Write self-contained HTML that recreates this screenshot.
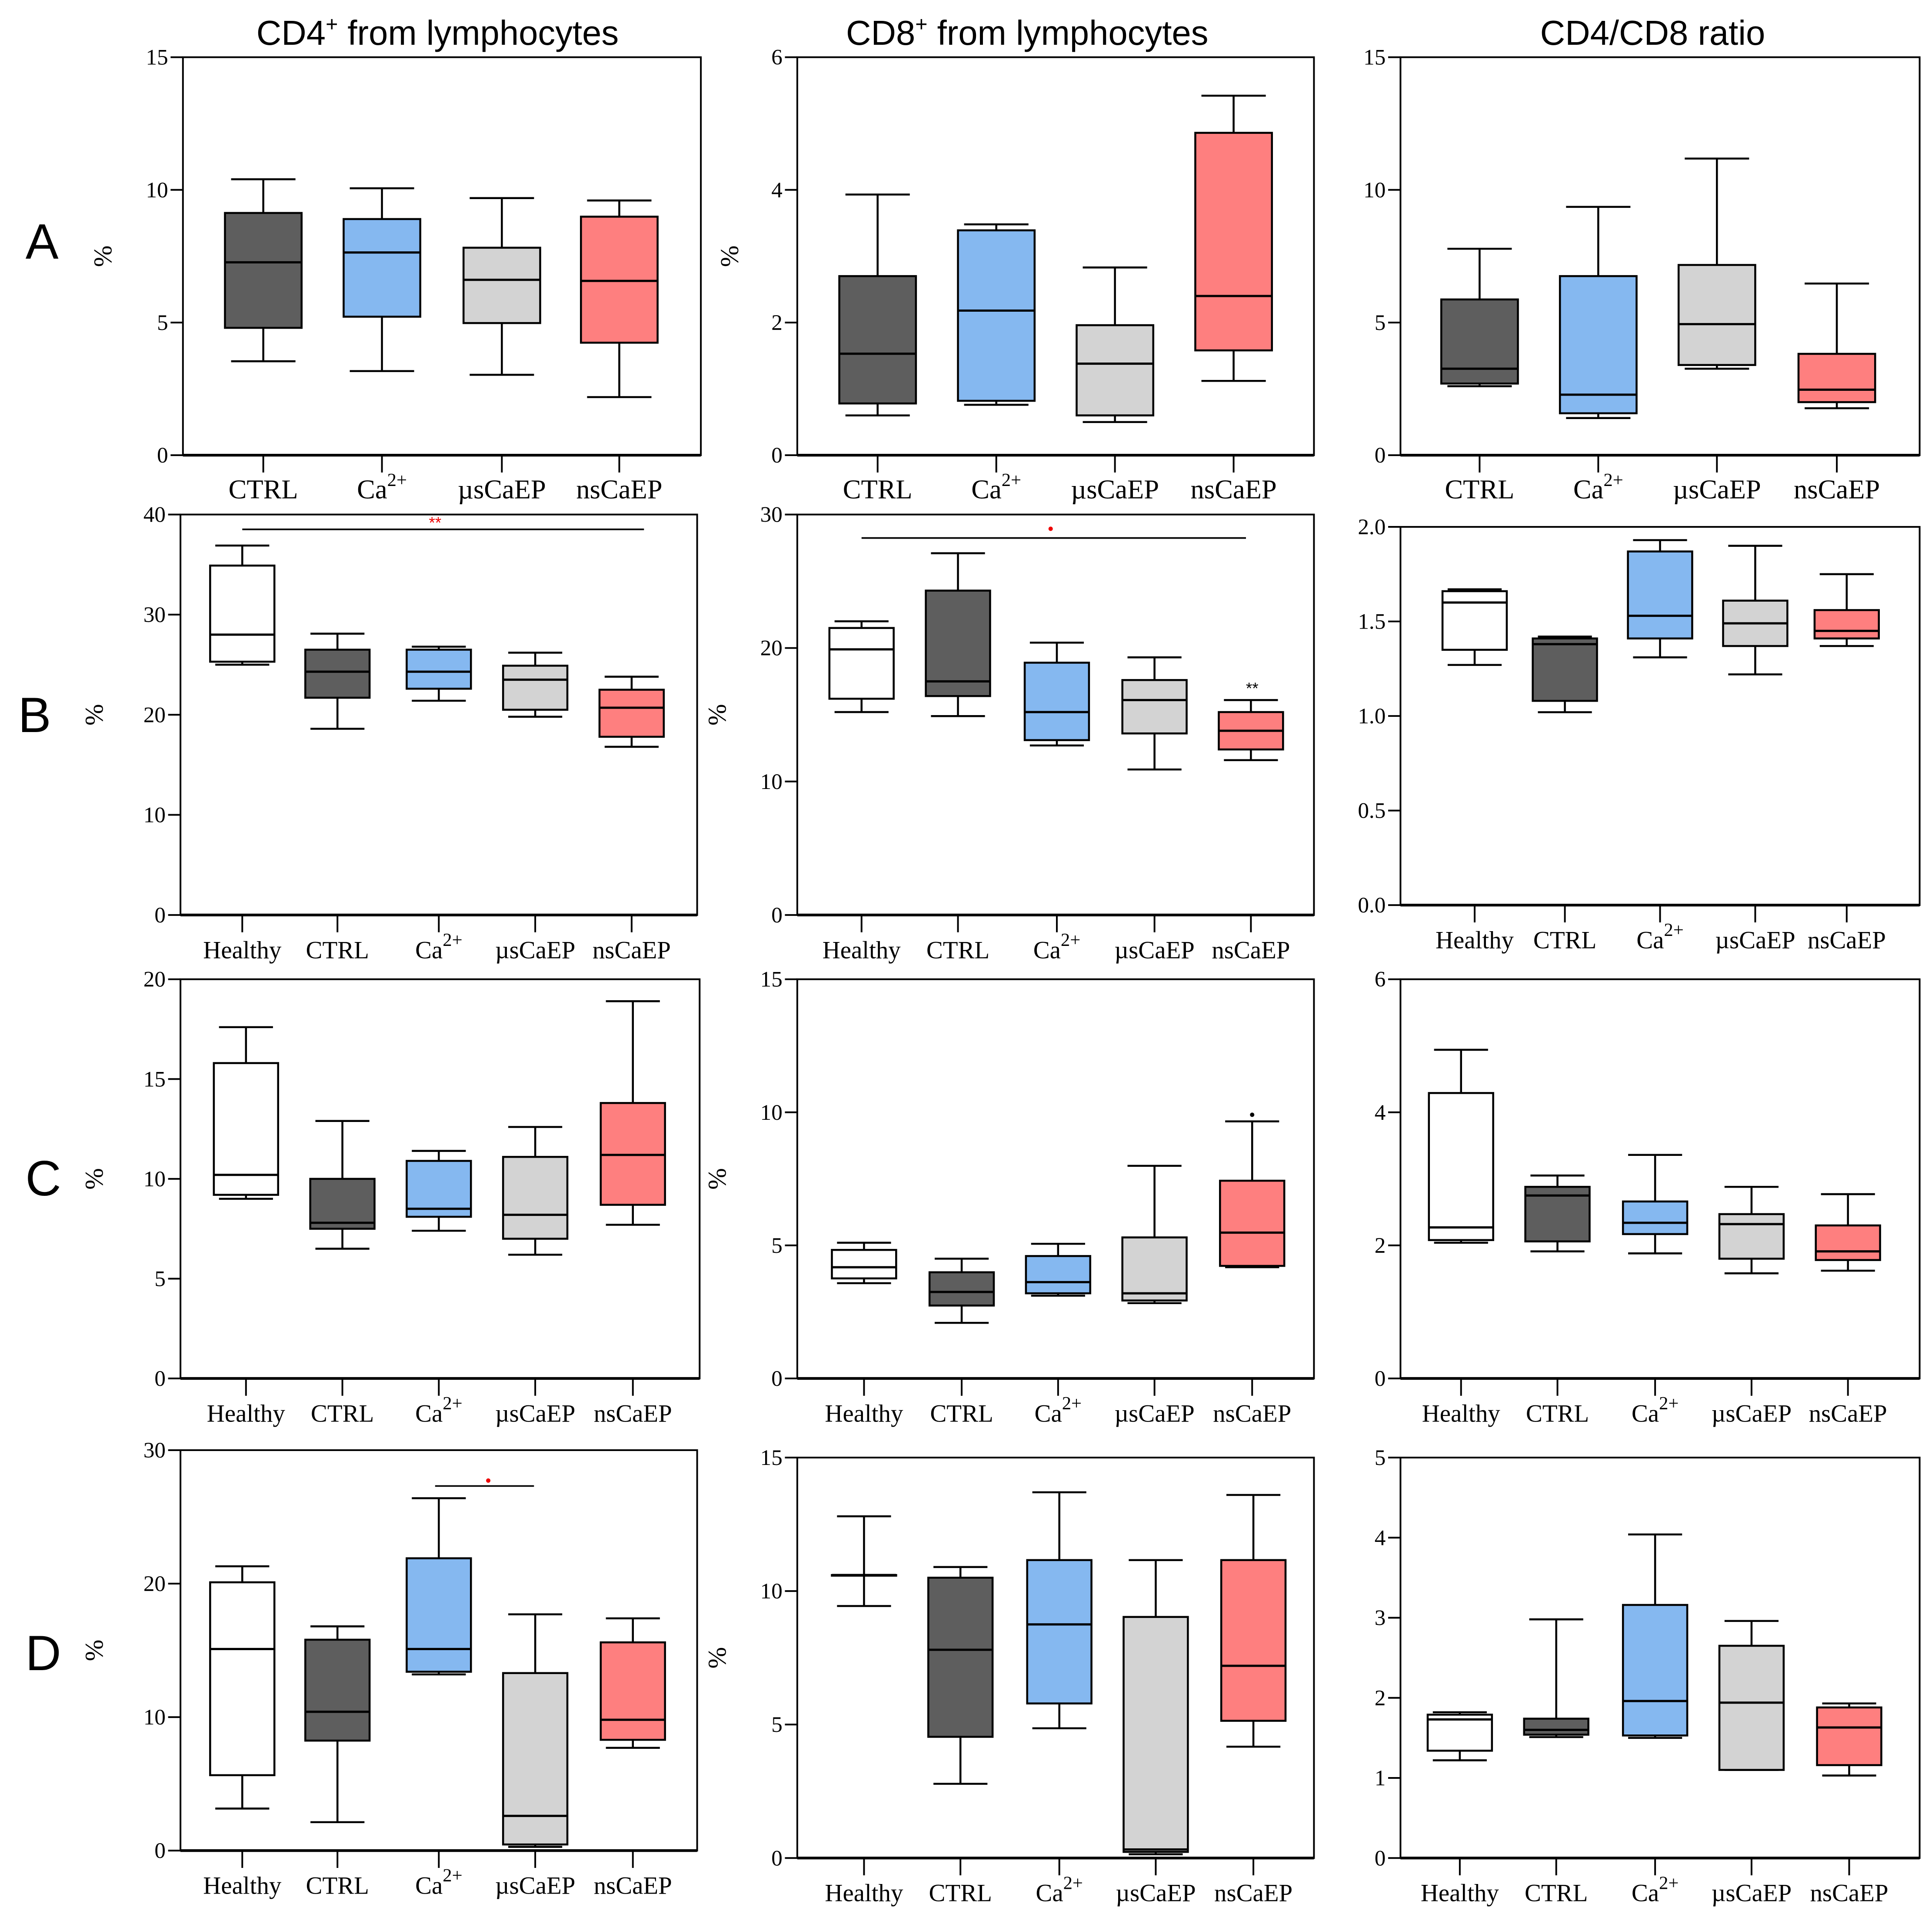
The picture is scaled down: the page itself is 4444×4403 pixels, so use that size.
<!DOCTYPE html>
<html><head><meta charset="utf-8"><style>
html,body{margin:0;padding:0;background:#fff;}
svg{display:block;}
</style></head><body>
<svg id="fig" width="4444" height="4403" viewBox="0 0 1563 1548" xmlns="http://www.w3.org/2000/svg">
<rect width="1563" height="1548" fill="#fff"/>
<g font-family="Liberation Sans, Arial, sans-serif" font-size="28" text-anchor="middle" fill="#000">
<text x="354" y="36">CD4<tspan font-size="17" dy="-11">+</tspan><tspan dy="11"> from lymphocytes</tspan></text>
<text x="831" y="36">CD8<tspan font-size="17" dy="-11">+</tspan><tspan dy="11"> from lymphocytes</tspan></text>
<text x="1337" y="36">CD4/CD8 ratio</text>
</g>
<g font-family="Liberation Sans, Arial, sans-serif" font-size="40" text-anchor="middle">
<text x="34" y="209">A</text>
<text x="28" y="592">B</text>
<text x="35" y="967">C</text>
<text x="35" y="1351">D</text>
</g>
<g id="panels"></g>
</svg>
<script>
const catsA = ["CTRL","Ca","µsCaEP","nsCaEP"];
const catsB = ["Healthy","CTRL","Ca","µsCaEP","nsCaEP"];
// each box: [min, q1, median, q3, max]
const A1 = [[3.54,4.8,7.27,9.13,10.4],[3.17,5.22,7.64,8.9,10.06],[3.03,4.98,6.61,7.82,9.69],[2.19,4.24,6.57,8.99,9.6]];
const A2 = [[0.6,0.78,1.53,2.7,3.93],[0.76,0.82,2.18,3.39,3.48],[0.5,0.6,1.38,1.96,2.83],[1.12,1.58,2.4,4.86,5.42]];
const A3 = [[2.6,2.7,3.26,5.87,7.78],[1.4,1.58,2.28,6.75,9.36],[3.26,3.4,4.94,7.17,11.18],[1.77,2.0,2.47,3.82,6.47]];
const B1 = [[25,25.3,28,34.9,36.9],[18.6,21.7,24.3,26.5,28.1],[21.4,22.6,24.3,26.5,26.8],[19.8,20.5,23.5,24.9,26.2],[16.8,17.8,20.7,22.5,23.8]];
const B2 = [[15.2,16.2,19.9,21.5,22],[14.9,16.4,17.5,24.3,27.1],[12.7,13.1,15.2,18.9,20.4],[10.9,13.6,16.1,17.6,19.3],[11.6,12.4,13.8,15.2,16.1]];
const B3 = [[1.27,1.35,1.6,1.66,1.67],[1.02,1.08,1.38,1.41,1.42],[1.31,1.41,1.53,1.87,1.93],[1.22,1.37,1.49,1.61,1.9],[1.37,1.41,1.45,1.56,1.75]];
const C1 = [[9.0,9.2,10.2,15.8,17.6],[6.5,7.5,7.8,10.0,12.9],[7.4,8.1,8.5,10.9,11.4],[6.2,7.0,8.2,11.1,12.6],[7.7,8.7,11.2,13.8,18.9]];
const C2 = [[3.58,3.76,4.18,4.83,5.1],[2.09,2.74,3.25,3.99,4.5],[3.11,3.2,3.62,4.6,5.06],[2.83,2.93,3.2,5.3,7.99],[4.18,4.23,5.48,7.43,9.66]];
const C3 = [[2.04,2.08,2.27,4.29,4.94],[1.91,2.06,2.75,2.88,3.05],[1.88,2.17,2.34,2.66,3.36],[1.58,1.8,2.32,2.47,2.88],[1.62,1.78,1.91,2.3,2.77]];
const D1 = [[3.15,5.65,15.1,20.1,21.3],[2.13,8.24,10.4,15.8,16.8],[13.2,13.4,15.1,21.9,26.4],[0.28,0.46,2.6,13.3,17.7],[7.7,8.3,9.8,15.6,17.4]];
const D2 = [[9.44,10.6,10.6,10.6,12.8],[2.78,4.54,7.8,10.5,10.9],[4.86,5.79,8.75,11.16,13.7],[0.14,0.23,0.32,9.03,11.16],[4.17,5.14,7.2,11.16,13.6]];
const D3 = [[1.22,1.34,1.73,1.79,1.82],[1.51,1.54,1.6,1.74,2.98],[1.5,1.53,1.96,3.16,4.04],[1.1,1.1,1.94,2.65,2.96],[1.03,1.16,1.63,1.88,1.93]];
const ticksA1=[0,5,10,15], ticksA2=[0,2,4,6], ticksB1=[0,10,20,30,40], ticksB2=[0,10,20,30], ticksB3=[0,0.5,1,1.5,2];
const ticksC1=[0,5,10,15,20], ticksC2=[0,5,10,15], ticksC3=[0,2,4,6], ticksD1=[0,10,20,30], ticksD3=[0,1,2,3,4,5];

const colorsA=["#5e5e5e","#85b8f0","#d3d3d3","#fe7f7f"];
const colorsB=["#ffffff","#5e5e5e","#85b8f0","#d3d3d3","#fe7f7f"];
const NS="http://www.w3.org/2000/svg";
const root=document.getElementById('panels');
function mk(tag,attrs,parent){const e=document.createElementNS(NS,tag);for(const k in attrs)e.setAttribute(k,attrs[k]);(parent||root).appendChild(e);return e;}

const panels=[
 {id:"a1",L:148,R:567,T:46,B:368,max:15,ticks:ticksA1,dec:0,cats:catsA,cx:[213,309,406,501],bw:62,data:A1,ylx:90},
 {id:"a2",L:645,R:1063,T:46,B:368,max:6,ticks:ticksA2,dec:0,cats:catsA,cx:[710,806,902,998],bw:62,data:A2,ylx:597},
 {id:"a3",L:1133,R:1553,T:46,B:368,max:15,ticks:ticksA1,dec:0,cats:catsA,cx:[1197,1293,1389,1486],bw:62,data:A3,ylx:null},
 {id:"b1",L:146,R:564,T:416,B:740,max:40,ticks:ticksB1,dec:0,cats:catsB,cx:[196,273,355,433,511],bw:52,data:B1,ylx:83},
 {id:"b2",L:645,R:1063,T:416,B:740,max:30,ticks:ticksB2,dec:0,cats:catsB,cx:[697,775,855,934,1012],bw:52,data:B2,ylx:587},
 {id:"b3",L:1133,R:1553,T:426,B:732,max:2,ticks:ticksB3,dec:1,cats:catsB,cx:[1193,1266,1343,1420,1494],bw:52,data:B3,ylx:null},
 {id:"c1",L:146,R:566,T:792,B:1115,max:20,ticks:ticksC1,dec:0,cats:catsB,cx:[199,277,355,433,512],bw:52,data:C1,ylx:83},
 {id:"c2",L:645,R:1063,T:792,B:1115,max:15,ticks:ticksC2,dec:0,cats:catsB,cx:[699,778,856,934,1013],bw:52,data:C2,ylx:587},
 {id:"c3",L:1133,R:1553,T:792,B:1115,max:6,ticks:ticksC3,dec:0,cats:catsB,cx:[1182,1260,1339,1417,1495],bw:52,data:C3,ylx:null},
 {id:"d1",L:146,R:564,T:1173,B:1497,max:30,ticks:ticksD1,dec:0,cats:catsB,cx:[196,273,355,433,512],bw:52,data:D1,ylx:83},
 {id:"d2",L:645,R:1063,T:1179,B:1503,max:15,ticks:ticksC2,dec:0,cats:catsB,cx:[699,777,857,935,1014],bw:52,data:D2,ylx:587},
 {id:"d3",L:1133,R:1553,T:1179,B:1503,max:5,ticks:ticksD3,dec:0,cats:catsB,cx:[1181,1259,1339,1417,1496],bw:52,data:D3,ylx:null}
];

panels.forEach(p=>{
 const g=mk('g',{});
 
 
 const y=v=>p.B-(v/p.max)*(p.B-p.T);
 const frame=mk('rect',{x:p.L,y:p.T,width:p.R-p.L,height:p.B-p.T,fill:"none",stroke:"#000","stroke-width":1.4},g);
 
 
 mk('line',{x1:p.L,x2:p.R,y1:p.B,y2:p.B,stroke:"#000","stroke-width":2.2},g);
 p.ticks.forEach(t=>{
  mk('line',{x1:p.L-10,x2:p.L,y1:y(t),y2:y(t),stroke:"#000","stroke-width":1.4},g);
  const tx=mk('text',{x:p.L-12,y:y(t)+6,"font-family":"Liberation Serif, serif","font-size":18,"text-anchor":"end"},g);
  tx.textContent=t.toFixed(p.dec);
  
  
 });
 if(p.ylx!==null){
  const yl=mk('text',{x:0,y:0,transform:`translate(${p.ylx},${(p.T+p.B)/2}) rotate(-90)`,"font-family":"Liberation Serif, serif","font-size":21,"text-anchor":"middle"},g);
  yl.textContent="%";
  
  
 }
 p.cats.forEach((c,i)=>{
  const x=p.cx[i];
  mk('line',{x1:x,x2:x,y1:p.B,y2:p.B+14,stroke:"#000","stroke-width":1.4},g);
  const fs=p.cats.length===4?22:20;
  const tx=mk('text',{x:x,y:p.B+35,"font-family":"Liberation Serif, serif","font-size":fs,"text-anchor":"middle"},g);
  if(c==="Ca"){tx.innerHTML='Ca<tspan font-size="15" dy="-10">2+</tspan>';}
  else tx.textContent=c;
  
  
  const d=p.data[i];
  const col=(p.cats.length===4?colorsA:colorsB)[i];
  const bg=mk('g',{},g);
  
  
  const cw=p.bw*0.42;
  mk('line',{x1:x,x2:x,y1:y(d[0]),y2:y(d[1]),stroke:"#000","stroke-width":1.6},bg);
  mk('line',{x1:x,x2:x,y1:y(d[3]),y2:y(d[4]),stroke:"#000","stroke-width":1.6},bg);
  mk('line',{x1:x-cw,x2:x+cw,y1:y(d[0]),y2:y(d[0]),stroke:"#000","stroke-width":1.6},bg);
  mk('line',{x1:x-cw,x2:x+cw,y1:y(d[4]),y2:y(d[4]),stroke:"#000","stroke-width":1.6},bg);
  mk('rect',{x:x-p.bw/2,y:y(d[3]),width:p.bw,height:Math.max(0.5,y(d[1])-y(d[3])),fill:col,stroke:"#000","stroke-width":1.6},bg);
  mk('line',{x1:x-p.bw/2,x2:x+p.bw/2,y1:y(d[2]),y2:y(d[2]),stroke:"#000","stroke-width":1.8},bg);
 });
});
function sig(x1,x2,yy,label,lx,ly,color,name){
 const g=mk('g',{});
 
 
 if(x1!==null) mk('line',{x1:x1,x2:x2,y1:yy,y2:yy,stroke:"#000","stroke-width":1.3},g);
 const t=mk('text',{x:lx,y:ly,"font-family":"Liberation Sans, sans-serif","font-size":13,"text-anchor":"middle",fill:color},g);
 t.textContent=label;
}
sig(196,521,428,"**",352,427,"#e00","sig-b1");
sig(697,1008,435,"•",850,432,"#e00","sig-b2");
sig(null,0,0,"**",1013,561,"#000","sig-b2-ns");
sig(null,0,0,"•",1013,906,"#000","sig-c2-ns");
sig(352,432,1202,"•",395,1202,"#e00","sig-d1");
</script>
</body></html>
